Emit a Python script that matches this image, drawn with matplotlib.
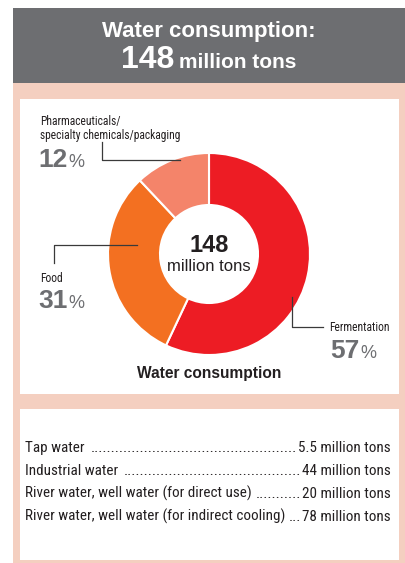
import matplotlib
matplotlib.use('Agg')
import matplotlib.pyplot as plt
from matplotlib.patches import Rectangle, Wedge
from matplotlib import font_manager

# === 数据 ===
sectors = ['Fermentation', 'Food', 'Pharmaceuticals/\nspecialty chemicals/packaging']
shares = [57, 31, 12]
sector_colors = ['#ed1c24', '#f37021', '#f4846a']
total_value = '148'
total_unit = 'million tons'
sources = ['Tap water', 'Industrial water',
           'River water, well water (for direct use)',
           'River water, well water (for indirect cooling)']
source_values = ['5.5 million tons', '44 million tons', '20 million tons', '78 million tons']

# === 字体 ===
BOLD = 'Liberation Sans'
NARROW, STRETCH = 'Liberation Sans', 'normal'
fonts = font_manager.fontManager.ttflist
for want in ['Liberation Sans Narrow', 'Roboto Condensed', 'Open Sans Condensed']:
    if any(f.name == want for f in fonts):
        NARROW = want
        break
else:
    for f in fonts:
        if f.name in ('Noto Sans', 'Roboto', 'Open Sans') and 'condensed' in str(f.stretch):
            NARROW, STRETCH = f.name, 'condensed'
            break

GRAY = '#6d6e71'
PEACH = '#f4cfc0'
DARK = '#231f20'

W, H = 406, 563
fig = plt.figure(figsize=(W / 100, H / 100), dpi=100)
ax = fig.add_axes([0, 0, 1, 1])
ax.set_xlim(0, W)
ax.set_ylim(H, 0)
ax.axis('off')

# 背景框
ax.add_patch(Rectangle((13, 8), W - 13, 75, color=GRAY, lw=0))
ax.add_patch(Rectangle((13, 83), W - 13, H - 83, color=PEACH, lw=0))
ax.add_patch(Rectangle((20, 99), 379, 295, color='white', lw=0))
ax.add_patch(Rectangle((20, 409), 379, 151, color='white', lw=0))

fig.canvas.draw()
renderer = fig.canvas.get_renderer()


def text_width(t):
    return t.get_window_extent(renderer).width  # 1 px == 1 data unit


def measure(s, size, **kw):
    t = ax.text(0, 0, s, fontsize=size, **kw)
    w = text_width(t)
    t.remove()
    return w


def fit_size(s, width, size, **kw):
    # 缩小字号直到宽度合适
    while size > 5 and measure(s, size, **kw) > width:
        size -= 0.1
    return size


narrow_kw = dict(family=NARROW, stretch=STRETCH)


def two_part(x, y, big, small, big_size, small_size, color, small_weight='normal',
             ha='left', gap=3):
    t1 = ax.text(x, y, big, fontsize=big_size, fontweight='bold', color=color,
                 family=BOLD, va='baseline', ha='left')
    t2 = ax.text(x, y, small, fontsize=small_size, fontweight=small_weight, color=color,
                 family=BOLD, va='baseline', ha='left')
    w1, w2 = text_width(t1), text_width(t2)
    x0 = x - (w1 + gap + w2) / 2 if ha == 'center' else x
    t1.set_x(x0)
    t2.set_x(x0 + w1 + gap)


# 标题
ax.text(209, 37, 'Water consumption:', fontsize=16, fontweight='bold', color='white',
        family=BOLD, ha='center', va='baseline')
two_part(209, 68, total_value, total_unit, 23, 15, 'white', small_weight='bold',
         ha='center', gap=5)

# === 环形图 ===
cx, cy, r_out, r_in = 209, 254, 101, 49
start = 90
for share, col in zip(shares, sector_colors):
    ang = share / sum(shares) * 360
    # y 轴反向，角度取负实现顺时针
    ax.add_patch(Wedge((cx, cy), r_out, -start, -(start - ang), width=r_out - r_in,
                       facecolor=col, edgecolor='white', lw=1.5))
    start -= ang

ax.text(cx, 252, total_value, fontsize=17, fontweight='bold', color=DARK, family=BOLD,
        ha='center', va='baseline')
ax.text(cx, 271, total_unit, fontsize=12, color=DARK, family=BOLD,
        ha='center', va='baseline')

# 引线
lc = '#3a3a3a'
ax.plot([102, 102, 180], [142, 160, 160], color=lc, lw=0.9)
ax.plot([54, 54, 137], [263, 245, 245], color=lc, lw=0.9)
ax.plot([292, 292, 323], [297, 327, 327], color=lc, lw=0.9)

# 标签
lab_size = fit_size('specialty chemicals/packaging', 141, 9.5, **narrow_kw)
ax.text(40, 139, sectors[2], fontsize=lab_size, color=DARK, ha='left', va='baseline',
        linespacing=1.15, **narrow_kw)
two_part(38, 167, str(shares[2]), '%', 19, 13, GRAY, gap=1)
ax.text(40, 282, sectors[1], fontsize=lab_size, color=DARK, ha='left', va='baseline',
        **narrow_kw)
two_part(38, 308, str(shares[1]), '%', 19, 13, GRAY, gap=1)
ax.text(329, 331, sectors[0], fontsize=lab_size, color=DARK, ha='left', va='baseline',
        **narrow_kw)
two_part(330, 358, str(shares[0]), '%', 19, 13, GRAY, gap=1)

ax.text(209, 378, 'Water consumption', fontsize=11.2, fontweight='bold', color=DARK,
        family=BOLD, ha='center', va='baseline')

# === 水源明细（点状引导线）===
x_left, x_right = 25, 391
tab_size = fit_size(sources[3] + ' ...' + source_values[3], x_right - x_left, 12.5,
                    **narrow_kw)
dot_w = measure('.' * 20, tab_size, **narrow_kw) / 20
for i, (name, val) in enumerate(zip(sources, source_values)):
    y = 452 + i * 23
    tl = ax.text(x_left, y, name + ' ', fontsize=tab_size, color=DARK,
                 ha='left', va='baseline', **narrow_kw)
    tr = ax.text(x_right, y, val, fontsize=tab_size, color=DARK,
                 ha='right', va='baseline', **narrow_kw)
    x_val = x_right - text_width(tr) - 1
    n = max(int((x_val - x_left - text_width(tl)) / dot_w), 0)
    ax.text(x_val, y, '.' * n, fontsize=tab_size, color=DARK,
            ha='right', va='baseline', **narrow_kw)

fig.savefig('out.png', dpi=100)
